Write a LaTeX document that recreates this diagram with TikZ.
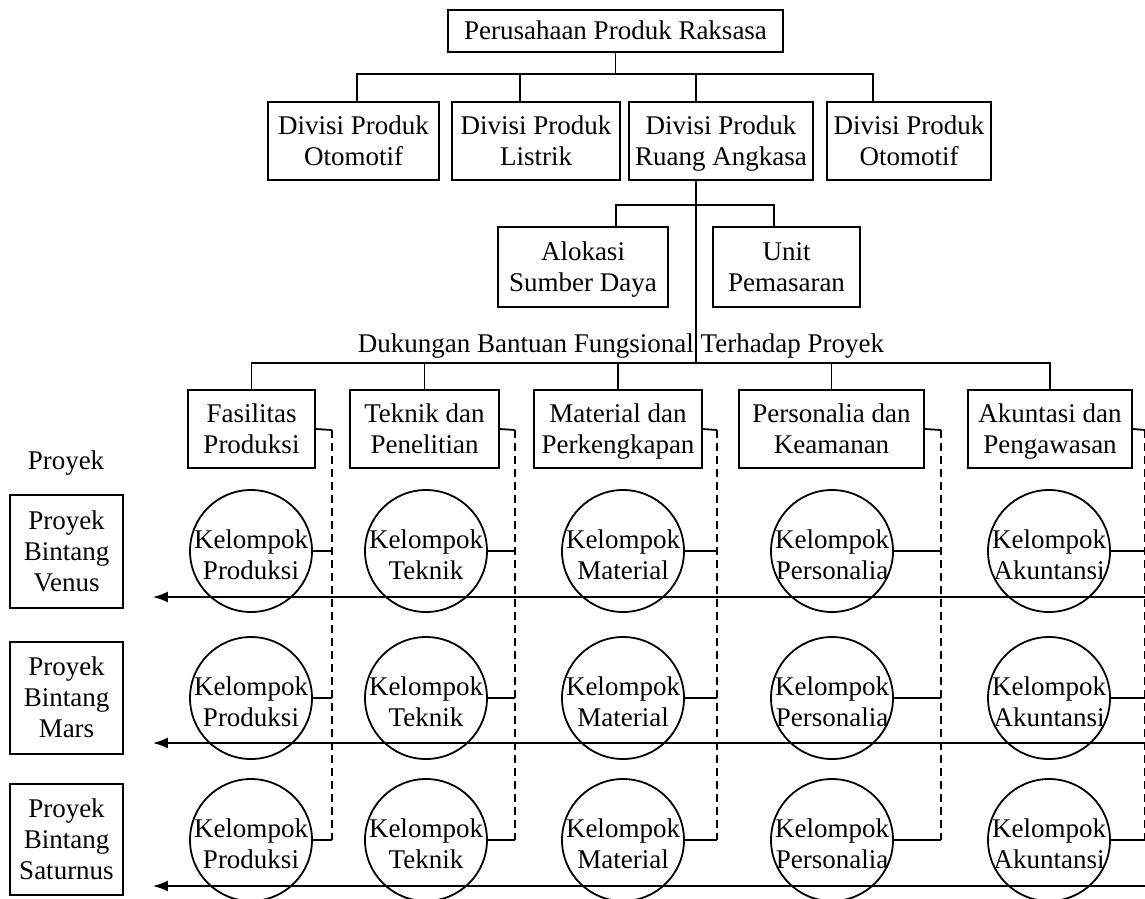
\documentclass[tikz,border=0pt]{standalone}
\usepackage{fontspec}
\setmainfont{Liberation Serif}
\usetikzlibrary{arrows.meta}

% lines of a box, with fixed height and depth
\newcommand{\oneline}[1]{\rule{0pt}{27pt}#1\strut}
\newcommand{\twoline}[2]{\rule{0pt}{27pt}#1\\#2\strut}
\newcommand{\threeline}[3]{\rule{0pt}{27pt}#1\\#2\\#3\strut}
\newcommand{\kelompok}[1]{\rule{0pt}{36pt}Kelompok\\#1\strut}

\begin{document}
\begin{tikzpicture}[x=1pt, y=-1pt, line width=1.8pt,
    font=\fontsize{27}{31}\selectfont,
    >={Latex[length=15pt,width=11pt]},
    box/.style={draw, align=center, inner sep=0pt, minimum height=78pt},
    kel/.style={draw, circle, align=center, inner sep=-6pt, minimum size=122pt},
    dashline/.style={dash pattern=on 8pt off 5pt}]
    \useasboundingbox (0,0) rectangle (1145,898);
    \clip (0,0) rectangle (1145,898);

    % Draw the company and its divisions
    \node[box, minimum width=335pt, minimum height=42pt] (top) at (615.5,31) {\oneline{Perusahaan Produk Raksasa}};
    \node[box, minimum width=171pt] (div1) at (353.5,141) {\twoline{Divisi Produk}{Otomotif}};
    \node[box, minimum width=168pt] (div2) at (536,141) {\twoline{Divisi Produk}{Listrik}};
    \node[box, minimum width=184pt] (div3) at (721,141) {\twoline{Divisi Produk}{Ruang Angkasa}};
    \node[box, minimum width=164pt] (div4) at (909,141) {\twoline{Divisi Produk}{Otomotif}};
    \coordinate (busA) at (615.5,74);
    \draw (top) -- (busA);
    \draw ([xshift=3.5pt]div1.north) |- (busA) -| ([xshift=-36pt]div4.north);
    \draw ([xshift=-16pt]div2.north) -- ([xshift=-16pt]div2.north |- busA);
    \draw ([xshift=-25pt]div3.north) -- ([xshift=-25pt]div3.north |- busA);

    % Staff units under the space division
    \node[box, minimum width=170pt, minimum height=80pt] (alok) at (583,267) {\twoline{Alokasi}{Sumber Daya}};
    \node[box, minimum width=147pt, minimum height=80pt] (unit) at (786.5,267) {\twoline{Unit}{Pemasaran}};
    \coordinate (busB) at (696,205);
    \draw ([xshift=33pt]alok.north) |- (busB) -| ([xshift=-12.5pt]unit.north);

    % Functional support
    \node[anchor=base] (dukungan) at (621,352) {Dukungan Bantuan Fungsional Terhadap Proyek};
    \coordinate (busC) at (696,363);
    \draw ([xshift=-25pt]div3.south) -- (busC);
    \node[box, minimum width=127pt] (fas) at (251.5,429) {\twoline{Fasilitas}{Produksi}};
    \node[box, minimum width=149pt] (tek) at (424.5,429) {\twoline{Teknik dan}{Penelitian}};
    \node[box, minimum width=168pt] (mat) at (618,429) {\twoline{Material dan}{Perkengkapan}};
    \node[box, minimum width=185pt] (per) at (831.5,429) {\twoline{Personalia dan}{Keamanan}};
    \node[box, minimum width=164pt] (aku) at (1050,429) {\twoline{Akuntasi dan}{Pengawasan}};
    \draw (fas.north) |- (busC) -| (aku.north);
    \foreach \b in {tek,mat,per}
        \draw (\b.north) -- (\b.north |- busC);

    % Projects
    \node[anchor=base] (proyek) at (66,469) {Proyek};
    \node[box, minimum width=113pt, minimum height=113pt] (venus) at (66.5,551.5) {\threeline{Proyek}{Bintang}{Venus}};
    \node[box, minimum width=113pt, minimum height=112pt] (mars) at (66.5,698) {\threeline{Proyek}{Bintang}{Mars}};
    \node[box, minimum width=113pt, minimum height=111pt] (saturnus) at (66.5,839.5) {\threeline{Proyek}{Bintang}{Saturnus}};

    % Groups
    \foreach \k/\x/\t in {prod/251/Produksi, tekn/426/Teknik, matr/623/Material, pers/832/Personalia, akun/1049/Akuntansi}
        \foreach \r/\y in {1/551, 2/698, 3/840}
            \node[kel] (\k\r) at (\x,\y) {\kelompok{\t}};

    % Dashed lines from units to groups
    \foreach \b/\k/\x in {fas/prod/332, tek/tekn/515, mat/matr/717, per/pers/941, aku/akun/1145}{
        \coordinate (d\b) at (\x,430);
        \draw (\b.east) -- (d\b);
        \draw[dashline] (d\b) -- (d\b |- \k3.east);
        \foreach \r in {1,2,3}
            \draw (\k\r.east) -- (\k\r.east -| d\b);
    }

    % Arrows to the projects
    \coordinate (rV) at (1150,597);
    \coordinate (rM) at (1150,743);
    \coordinate (rS) at (1150,886);
    \draw[->] (rV) -- ([xshift=29pt]venus.east |- rV);
    \draw[->] (rM) -- ([xshift=29pt]mars.east |- rM);
    \draw[->] (rS) -- ([xshift=29pt]saturnus.east |- rS);
\end{tikzpicture}
\end{document}
